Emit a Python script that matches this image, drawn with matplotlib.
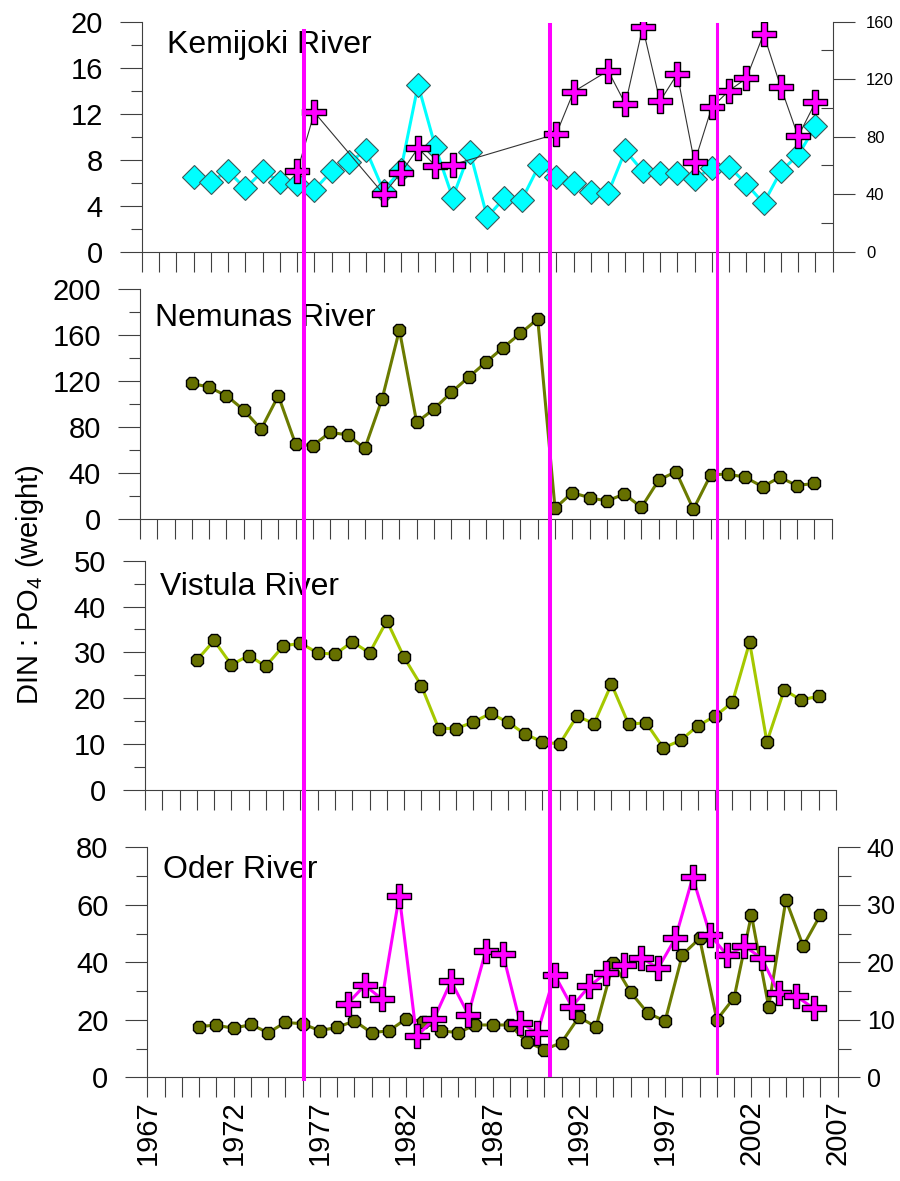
import matplotlib
matplotlib.use('Agg')
import matplotlib.pyplot as plt
from matplotlib.ticker import MultipleLocator
import numpy as np

plt.rcParams['font.family'] = ['Liberation Sans', 'DejaVu Sans']
plt.rcParams['mathtext.fontset'] = 'custom'
plt.rcParams['mathtext.rm'] = 'Liberation Sans'
plt.rcParams['mathtext.default'] = 'regular'

# ---- data ----
years = list(range(1970, 2007))

kemijoki = [6.5, 6.1, 7.0, 5.5, 7.0, 6.1, 5.9, 5.4, 7.0, 7.8,
            8.8, 5.3, 7.1, 14.5, 9.1, 4.7, 8.7, 3.0, 4.7, 4.5,
            7.5, 6.5, 6.0, 5.2, 5.1, 8.8, 7.0, 6.8, 6.8, 6.3,
            7.3, 7.4, 5.9, 4.2, 7.0, 8.4, 10.9]
kemijoki_cross_years = [1976, 1977, 1981, 1982, 1983, 1984, 1985, 1991, 1992, 1994,
                        1995, 1996, 1997, 1998, 1999, 2000, 2001, 2002, 2003, 2004,
                        2005, 2006]
kemijoki_cross = [55.9, 96.9, 40.1, 54.7, 72.1, 59.8, 60.5, 81.9, 111.3, 125.9,
                  102.7, 156.1, 104.6, 123.6, 62.1, 100.4, 112.0, 120.6, 151.4, 114.3,
                  80.2, 103.9]

nemunas = [118.3, 114.8, 107.5, 95.1, 78.3, 107.5, 65.2, 64.1, 75.7, 73.3,
           61.7, 104.6, 164.6, 84.3, 95.9, 110.4, 123.5, 136.5, 149.3, 161.7,
           174.2, 9.6, 23.2, 18.8, 15.9, 22.0, 10.4, 34.2, 41.4, 8.7,
           38.6, 39.4, 36.5, 28.4, 36.5, 29.3, 31.3]

vistula = [28.3, 32.6, 27.3, 29.3, 27.0, 31.4, 32.0, 29.9, 29.6, 32.3,
           29.9, 36.9, 28.9, 22.7, 13.4, 13.4, 14.8, 16.7, 14.8, 12.2,
           10.5, 10.0, 16.1, 14.5, 23.1, 14.3, 14.7, 9.2, 10.8, 14.0,
           16.1, 19.1, 32.2, 10.5, 21.8, 19.6, 20.5]

oder = [17.6, 18.2, 17.0, 18.4, 15.5, 19.1, 18.6, 16.2, 17.4, 19.6,
        15.5, 16.2, 20.3, 19.4, 16.2, 15.5, 18.2, 18.2, 18.2, 12.3,
        9.6, 12.1, 20.9, 17.6, 39.8, 29.6, 22.3, 19.6, 42.6, 48.3,
        20.0, 27.7, 56.5, 24.5, 61.7, 45.7, 56.5]
oder_cross_years = [1978.6, 1979.6, 1980.6, 1981.6, 1982.6, 1983.6, 1984.6, 1985.6,
                    1986.6, 1987.6, 1988.6, 1989.6, 1990.6, 1991.6, 1992.6, 1993.6,
                    1994.6, 1995.6, 1996.6, 1997.6, 1998.6, 1999.6, 2000.6, 2001.6,
                    2002.6, 2003.6, 2004.6, 2005.6]
oder_cross = [12.8, 16.0, 13.6, 31.6, 7.1, 10.1, 16.7, 10.9, 21.9, 21.5,
              9.5, 7.7, 17.8, 12.3, 15.8, 18.2, 19.5, 20.8, 19.0, 24.2,
              34.8, 24.8, 21.2, 22.8, 20.7, 14.6, 14.1, 12.0]

break_years = [1976.4, 1990.64, 2000.32]
river_names = ['Kemijoki River', 'Nemunas River', 'Vistula River', 'Oder River']

# ---- layout (pixels) ----
W, H = 900, 1181
# left, top, width, height of each panel
boxes = [(141.7, 21.7, 691, 230), (140, 289.3, 691.7, 230),
         (145, 560.7, 691, 229.3), (147.3, 847.3, 690.4, 230)]
ylims = [(20, 4, 2), (200, 40, 20), (50, 10, 5), (80, 20, 10)]
name_pos = [(0.036, 0.863), (0.022, 0.842), (0.021, 0.85), (0.023, 0.865)]

AX = '#404040'
FS = 21
olive_dot = '#667000'

# thinner plus than the built-in 'P'
a = 0.26
plus = [(-a, -1), (a, -1), (a, -a), (1, -a), (1, a), (a, a), (a, 1), (-a, 1),
        (-a, a), (-1, a), (-1, -a), (-a, -a), (-a, -1)]

fig = plt.figure(figsize=(W / 100, H / 100), dpi=100)
axes = []
for i, (l, t, w, h) in enumerate(boxes):
    ax = fig.add_axes([l / W, 1 - (t + h) / H, w / W, h / H])
    top, major, minor = ylims[i]
    ax.set_xlim(1967, 2007)
    ax.set_ylim(0, top)
    for s in ['top', 'right']:
        ax.spines[s].set_visible(False)
    for s in ['left', 'bottom']:
        ax.spines[s].set_color(AX)
        ax.spines[s].set_linewidth(0.8)
    ax.yaxis.set_major_locator(MultipleLocator(major))
    ax.yaxis.set_minor_locator(MultipleLocator(minor))
    ax.xaxis.set_major_locator(MultipleLocator(5))
    ax.xaxis.set_minor_locator(MultipleLocator(1))
    ax.tick_params(axis='y', which='major', direction='out', length=16, width=0.8,
                   color=AX, labelsize=FS, pad=12)
    ax.tick_params(axis='y', which='minor', direction='out', length=8, width=0.8, color=AX)
    ax.tick_params(axis='x', which='both', direction='out', length=14.5, width=0.8,
                   color=AX, labelsize=FS, pad=2)
    if i < 3:
        ax.tick_params(axis='x', labelbottom=False)
    else:
        ax.set_xticks(range(1967, 2008, 5))
        ax.set_xticklabels([str(y) for y in range(1967, 2008, 5)], rotation=90)
    ax.text(name_pos[i][0], name_pos[i][1], river_names[i], transform=ax.transAxes,
            fontsize=23, ha='left', va='baseline')
    ax.patch.set_alpha(0)
    axes.append(ax)

ax1, ax2, ax3, ax4 = axes

# Kemijoki
ax1.plot(years, kemijoki, '-', color='#00FFFF', lw=2.2, marker='D', ms=12,
         mfc='#00FFFF', mec='#3a5a5a', mew=0.8, zorder=3)
ax1r = ax1.twinx()
ax1r.set_ylim(0, 160)
for s in ['top', 'left', 'bottom']:
    ax1r.spines[s].set_visible(False)
ax1r.spines['right'].set_color(AX)
ax1r.spines['right'].set_linewidth(0.8)
ax1r.yaxis.set_major_locator(MultipleLocator(40))
ax1r.yaxis.set_minor_locator(MultipleLocator(20))
ax1r.tick_params(axis='y', which='major', direction='out', length=16, width=0.8,
                 color=AX, labelsize=12, pad=8)
ax1r.tick_params(axis='y', which='minor', direction='in', length=9, width=0.8, color=AX)
ax1r.plot(kemijoki_cross_years, kemijoki_cross, '-', color='#333333', lw=0.8,
          marker=plus, ms=17, mfc='#FF00FF', mec='black', mew=1.0, zorder=4)

# Nemunas
ax2.plot(years, nemunas, '-', color='#6B7B00', lw=2.2, marker='8', ms=10,
         mfc=olive_dot, mec='black', mew=1.0)

# Vistula
ax3.plot(years, vistula, '-', color='#A5C800', lw=2.2, marker='8', ms=10,
         mfc=olive_dot, mec='black', mew=1.0)

# Oder
ax4.plot(years, oder, '-', color='#6B7B00', lw=2.2, marker='8', ms=10,
         mfc=olive_dot, mec='black', mew=1.0)
ax4r = ax4.twinx()
ax4r.set_ylim(0, 40)
for s in ['top', 'left', 'bottom']:
    ax4r.spines[s].set_visible(False)
ax4r.spines['right'].set_color(AX)
ax4r.spines['right'].set_linewidth(0.8)
ax4r.yaxis.set_major_locator(MultipleLocator(10))
ax4r.yaxis.set_minor_locator(MultipleLocator(5))
ax4r.tick_params(axis='y', which='major', direction='out', length=16, width=0.8,
                 color=AX, labelsize=18, pad=5)
ax4r.tick_params(axis='y', which='minor', direction='out', length=9, width=0.8, color=AX)
ax4r.plot(oder_cross_years, oder_cross, '-', color='#FF00FF', lw=2.2,
          marker=plus, ms=17, mfc='#FF00FF', mec='black', mew=1.0)

# y label
fig.text(30 / W, 1 - 585 / H, 'DIN : PO$_4$ (weight)', rotation=90,
         ha='center', va='center', fontsize=FS)

# magenta regime-shift lines across all panels
over = fig.add_axes([boxes[0][0] / W, 0, boxes[0][2] / W, 1])
over.set_xlim(1967, 2007)
over.set_ylim(0, 1)
over.axis('off')
line_rows = [(31, 1079, 2.9), (25, 1075, 2.9), (24, 1073, 2.2)]
for yr, (top_px, bot_px, lw) in zip(break_years, line_rows):
    over.axvline(yr, ymin=1 - bot_px / H, ymax=1 - top_px / H, color='#FF00FF', lw=lw)

fig.savefig('out.png', dpi=100)
